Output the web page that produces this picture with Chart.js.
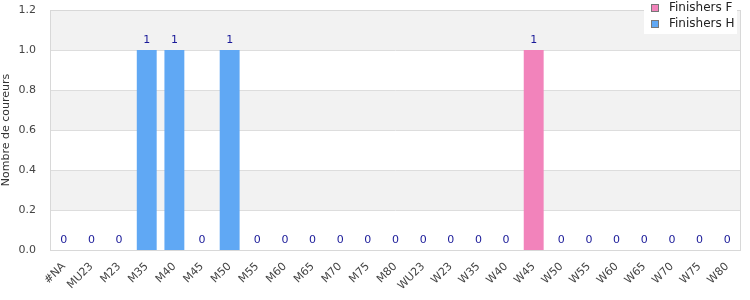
<!DOCTYPE html>
<html>
<head>
<meta charset="utf-8">
<script src="https://cdn.jsdelivr.net/npm/chart.js@4/dist/chart.umd.min.js"></script>
<style>
  html, body { margin: 0; padding: 0; background: #fff; }
  #wrap { width: 750px; height: 300px; }
</style>
</head>
<body>
<div id="wrap"><canvas id="chart"></canvas></div>
<script>
// Categories and series
const categories = ['#NA', 'MU23', 'M23', 'M35', 'M40', 'M45', 'M50', 'M55', 'M60', 'M65', 'M70', 'M75', 'M80',
  'WU23', 'W23', 'W35', 'W40', 'W45', 'W50', 'W55', 'W60', 'W65', 'W70', 'W75', 'W80'];
const finishersF = [0, 0, 0, 0, 0, 0, 0, 0, 0, 0, 0, 0, 0, 0, 0, 0, 0, 1, 0, 0, 0, 0, 0, 0, 0];
const finishersH = [0, 0, 0, 1, 1, 0, 1, 0, 0, 0, 0, 0, 0, 0, 0, 0, 0, 0, 0, 0, 0, 0, 0, 0, 0];
const yMax = 1.2;
const yStep = 0.2;

const pink = '#f283bb';
const blue = '#60a8f4';
const font = 'DejaVu Sans, sans-serif';

// alternating grey bands behind the bars + border
const bands = {
  id: 'bands',
  beforeDatasetsDraw(chart) {
    const { ctx, chartArea: a, scales: { y } } = chart;
    ctx.save();
    const ticks = y.ticks;
    for (let i = 0; i < ticks.length - 1; i++) {
      if (i % 2 === 1) {
        const t = y.getPixelForValue(ticks[i + 1].value);
        const b = y.getPixelForValue(ticks[i].value);
        ctx.fillStyle = '#f2f2f2';
        ctx.fillRect(a.left, t, a.right - a.left, b - t);
      }
    }
    ctx.strokeStyle = '#dddddd';
    ctx.lineWidth = 1;
    for (let i = 1; i < ticks.length - 1; i++) {
      const py = Math.round(y.getPixelForValue(ticks[i].value)) + 0.5;
      ctx.beginPath();
      ctx.moveTo(a.left, py);
      ctx.lineTo(a.right, py);
      ctx.stroke();
    }
    ctx.strokeStyle = '#d8d8d8';
    ctx.strokeRect(Math.round(a.left) + 0.5, Math.round(a.top) + 0.5,
      Math.round(a.right - a.left) - 1, Math.round(a.bottom - a.top));
    ctx.restore();
  }
};

// total value above each stack
const totals = {
  id: 'totals',
  afterDatasetsDraw(chart) {
    const { ctx, scales: { x, y } } = chart;
    ctx.save();
    ctx.font = '11px ' + font;
    ctx.fillStyle = '#1a1a99';
    ctx.textAlign = 'center';
    ctx.textBaseline = 'bottom';
    categories.forEach((c, i) => {
      const tot = finishersF[i] + finishersH[i];
      ctx.fillText(String(tot), x.getPixelForValue(i), y.getPixelForValue(tot) - 4);
    });
    ctx.restore();
  }
};

// legend box in the top right corner
const legendBox = {
  id: 'legendBox',
  afterDraw(chart) {
    const { ctx } = chart;
    ctx.save();
    ctx.fillStyle = '#ffffff';
    ctx.fillRect(644, 0, 93, 34);
    ctx.font = '12px ' + font;
    ctx.textBaseline = 'middle';
    chart.data.datasets.forEach((ds, i) => {
      const cy = 8 + i * 16;
      ctx.fillStyle = ds.backgroundColor;
      ctx.fillRect(651.5, cy - 3.5, 7, 7);
      ctx.strokeStyle = '#777';
      ctx.lineWidth = 1;
      ctx.strokeRect(651.5, cy - 3.5, 7, 7);
      ctx.fillStyle = '#222';
      ctx.fillText(ds.label, 669, cy);
    });
    ctx.restore();
  }
};

new Chart(document.getElementById('chart'), {
  type: 'bar',
  data: {
    labels: categories,
    datasets: [
      { label: 'Finishers F', data: finishersF, backgroundColor: pink, stack: 's' },
      { label: 'Finishers H', data: finishersH, backgroundColor: blue, stack: 's' }
    ]
  },
  options: {
    responsive: true,
    maintainAspectRatio: false,
    animation: false,
    layout: { padding: { top: 10, right: 9, left: 0, bottom: 0 } },
    plugins: {
      legend: { display: false },
      tooltip: { enabled: false }
    },
    datasets: { bar: { categoryPercentage: 1, barPercentage: 0.72 } },
    scales: {
      x: {
        stacked: true,
        grid: { display: false },
        border: { display: false },
        ticks: {
          color: '#444', font: { family: font, size: 11 },
          minRotation: 45, maxRotation: 45, autoSkip: false, padding: 2
        },
        afterFit(s) { s.height = 50; s.paddingLeft = 0; s.paddingRight = 0; }
      },
      y: {
        stacked: true,
        min: 0, max: yMax,
        grid: { display: false },
        border: { display: false },
        ticks: {
          stepSize: yStep, color: '#444', font: { family: font, size: 11 }, padding: 6,
          callback: v => v.toFixed(1)
        },
        title: {
          display: true, text: 'Nombre de coureurs', color: '#333',
          font: { family: font, size: 11 }, padding: { top: 0, bottom: 2 }
        },
        afterFit(s) { s.width = 50; s.paddingTop = 0; s.paddingBottom = 0; }
      }
    }
  },
  plugins: [bands, totals, legendBox]
});
</script>
</body>
</html>
